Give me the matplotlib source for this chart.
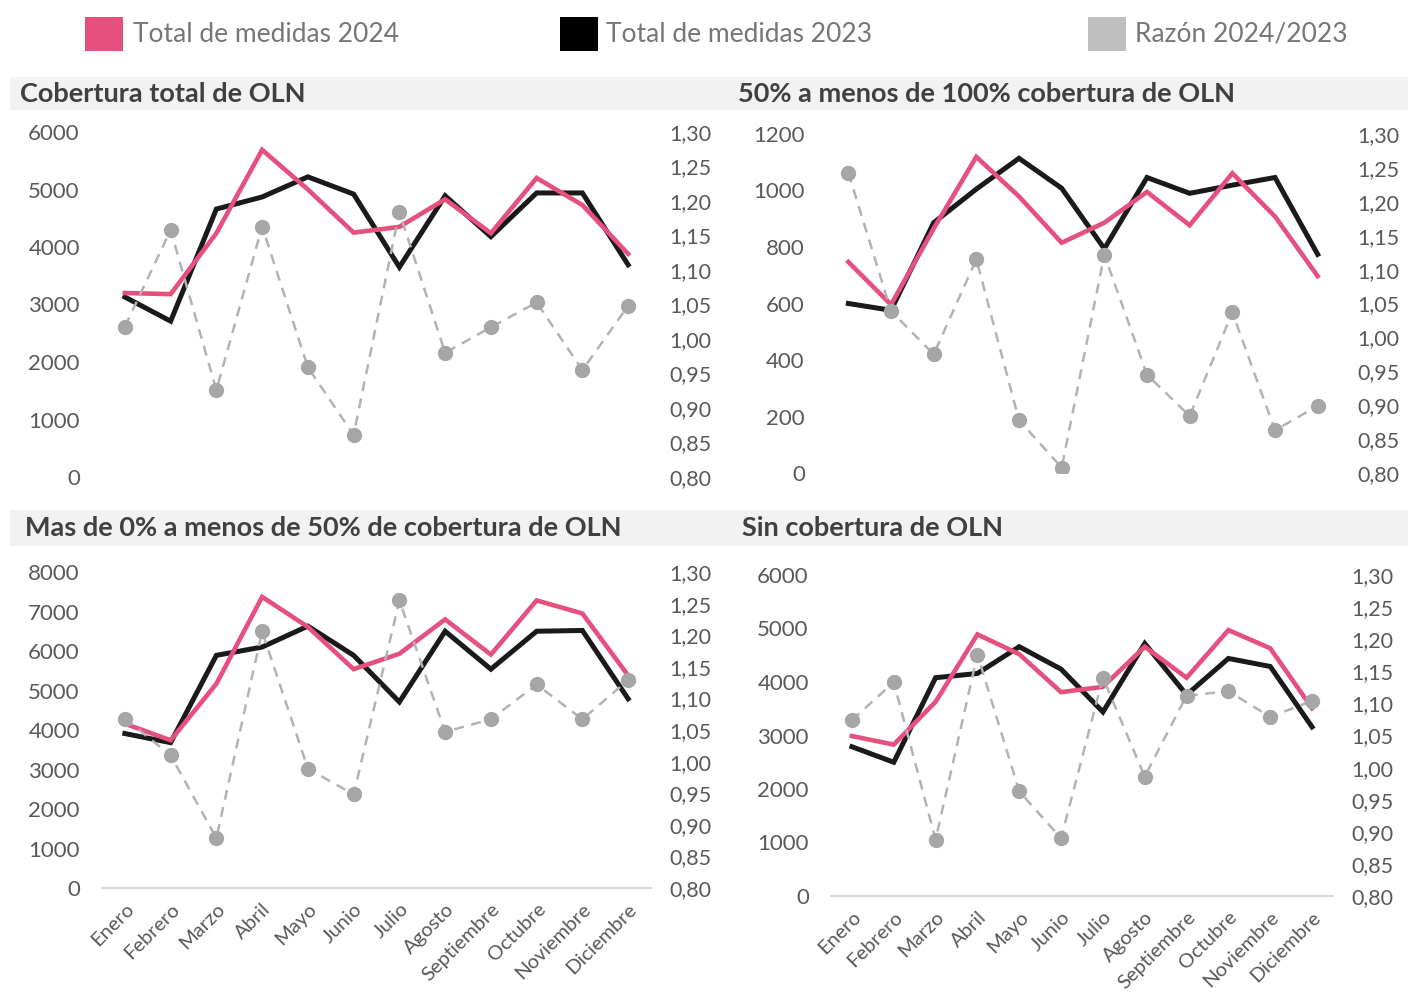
import matplotlib
matplotlib.use("Agg")
import matplotlib.pyplot as plt
from matplotlib.patches import Rectangle
from matplotlib.ticker import FuncFormatter

plt.rcParams['font.family'] = ['Lato', 'DejaVu Sans']

# months
meses = ['Enero', 'Febrero', 'Marzo', 'Abril', 'Mayo', 'Junio', 'Julio',
         'Agosto', 'Septiembre', 'Octubre', 'Noviembre', 'Diciembre']

# Cobertura total de OLN
total_2024 = [3200, 3180, 4240, 5690, 5000, 4250, 4350, 4830, 4240, 5200, 4730, 3880]
total_2023 = [3130, 2710, 4660, 4870, 5220, 4920, 3650, 4890, 4180, 4940, 4940, 3690]
total_razon = [1.018, 1.158, 0.926, 1.163, 0.959, 0.861, 1.184, 0.980, 1.017, 1.053, 0.955, 1.048]

# 50% a menos de 100% cobertura de OLN
c50_2024 = [747, 596, 865, 1119, 979, 815, 886, 995, 877, 1061, 908, 697]
c50_2023 = [600, 576, 886, 1005, 1114, 1008, 794, 1046, 990, 1019, 1046, 774]
c50_razon = [1.243, 1.039, 0.975, 1.115, 0.878, 0.808, 1.122, 0.945, 0.884, 1.037, 0.863, 0.899]

# Mas de 0% a menos de 50% de cobertura de OLN
c0_2024 = [4160, 3740, 5170, 7370, 6610, 5540, 5930, 6800, 5910, 7280, 6950, 5380]
c0_2023 = [3910, 3680, 5890, 6100, 6630, 5890, 4710, 6500, 5540, 6500, 6520, 4790]
c0_razon = [1.068, 1.010, 0.879, 1.206, 0.989, 0.948, 1.255, 1.047, 1.067, 1.122, 1.067, 1.129]

# Sin cobertura de OLN
sin_2024 = [2990, 2830, 3630, 4890, 4520, 3810, 3910, 4660, 4080, 4970, 4630, 3510]
sin_2023 = [2790, 2500, 4080, 4160, 4660, 4240, 3440, 4720, 3760, 4440, 4290, 3160]
sin_razon = [1.074, 1.133, 0.888, 1.176, 0.963, 0.890, 1.140, 0.986, 1.112, 1.119, 1.079, 1.104]

PINK = '#e5507f'
BLACK = '#1a1a1a'
GRAY_M = '#a6a6a6'
GRAY_L = '#b3b3b3'
TXT = '#595959'

W, H = 1408, 996
fig = plt.figure(figsize=(W / 100, H / 100), dpi=100)


def fbox(x0, y0, x1, y1):
    # pixel box -> figure fraction [left, bottom, width, height]
    return [x0 / W, 1 - y1 / H, (x1 - x0) / W, (y1 - y0) / H]


paneles = [
    ('Cobertura total de OLN', total_2024, total_2023, total_razon,
     (102, 132, 651, 477), 6000, 1000, False, (10, 77, 729, 110), 20),
    ('50% a menos de 100% cobertura de OLN', c50_2024, c50_2023, c50_razon,
     (827, 134, 1339, 473), 1200, 200, False, (729, 77, 1408, 110), 738),
    ('Mas de 0% a menos de 50% de cobertura de OLN', c0_2024, c0_2023, c0_razon,
     (102, 572, 651, 888), 8000, 1000, True, (10, 510, 729, 546), 25),
    ('Sin cobertura de OLN', sin_2024, sin_2023, sin_razon,
     (831, 575, 1333, 896), 6000, 1000, True, (729, 510, 1408, 546), 742),
]

x = list(range(len(meses)))
for titulo, v24, v23, razon, box, ymax, step, show_x, band, tx in paneles:
    # title band
    fig.add_artist(Rectangle((band[0] / W, 1 - band[3] / H), (band[2] - band[0]) / W,
                             (band[3] - band[1]) / H, transform=fig.transFigure,
                             facecolor='#f2f2f2', edgecolor='none', zorder=0))
    fig.text(tx / W, 1 - (band[1] + band[3]) / 2 / H, titulo, fontsize=19.5,
             fontweight='bold', color='#404040', va='center', ha='left')

    ax = fig.add_axes(fbox(*box))
    ax.plot(x, v23, color=BLACK, lw=3.6, solid_joinstyle='miter', zorder=2)
    ax.plot(x, v24, color=PINK, lw=3.3, solid_joinstyle='miter', zorder=3)
    ax.set_xlim(-0.5, len(meses) - 0.5)
    ax.set_ylim(0, ymax)
    ax.set_yticks(range(0, ymax + 1, step))
    for s in ax.spines.values():
        s.set_visible(False)
    ax.tick_params(axis='y', length=0, pad=16, labelsize=16, labelcolor=TXT)
    ax.set_xticks(x)
    if show_x:
        ax.spines['bottom'].set_visible(True)
        ax.spines['bottom'].set_color('#d9d9d9')
        ax.spines['bottom'].set_linewidth(1.5)
        ax.set_xticklabels(meses, rotation=45, ha='right', rotation_mode='anchor')
        ax.tick_params(axis='x', length=0, pad=9, labelsize=14.5, labelcolor=TXT)
    else:
        ax.tick_params(axis='x', length=0, labelbottom=False)

    ax2 = ax.twinx()
    ax2.plot(x, razon, color=GRAY_L, lw=1.8, ls=(0, (4, 3)), marker='o',
             markersize=10, markerfacecolor=GRAY_M, markeredgecolor=GRAY_M)
    ax2.set_ylim(0.8, 1.3)
    ax2.set_yticks([0.8 + 0.05 * i for i in range(11)])
    ax2.yaxis.set_major_formatter(FuncFormatter(lambda v, p: f'{v:.2f}'.replace('.', ',')))
    for s in ax2.spines.values():
        s.set_visible(False)
    ax2.tick_params(axis='y', length=0, pad=13, labelsize=15.5, labelcolor=TXT)

# legend
leyenda = [('Total de medidas 2024', PINK, 85, 133),
           ('Total de medidas 2023', '#000000', 560, 606),
           ('Razón 2024/2023', '#bfbfbf', 1088, 1135)]
for texto, col, xs, xt in leyenda:
    fig.add_artist(Rectangle((xs / W, 1 - 51 / H), 38 / W, 34 / H,
                             transform=fig.transFigure, facecolor=col, edgecolor='none'))
    fig.text(xt / W, 1 - 34 / H, texto, fontsize=19, color='#767676', va='center', ha='left')

fig.savefig('out.png', dpi=100)
